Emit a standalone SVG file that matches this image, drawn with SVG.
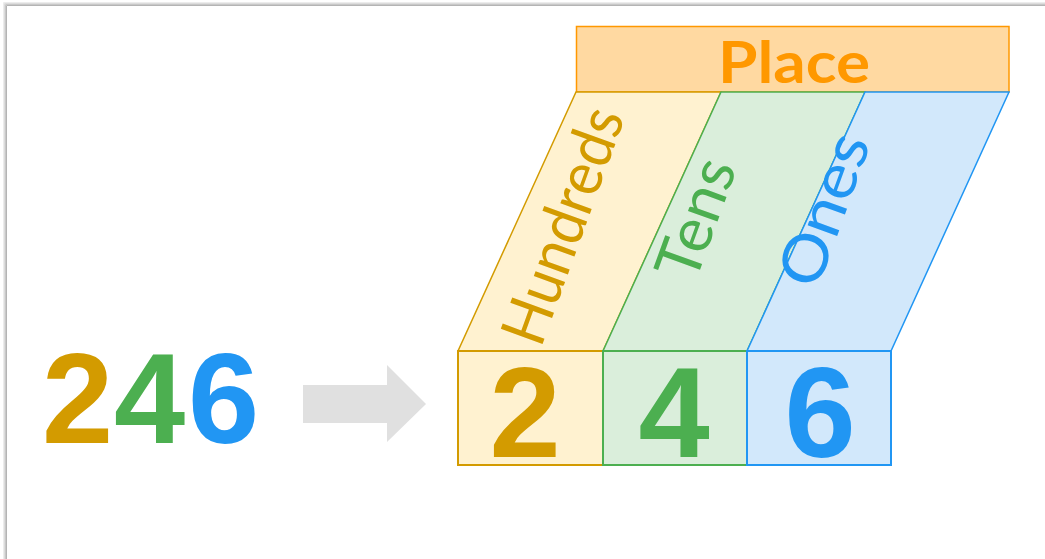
<svg xmlns="http://www.w3.org/2000/svg" width="1045" height="559" viewBox="0 0 1045 559">
<defs>
<style>
.big{font-family:"Liberation Sans",Arial,sans-serif;font-weight:bold;font-size:128px}
.mid{text-anchor:middle}
.lbl{font-family:Lato,"Noto Sans","Liberation Sans",sans-serif;font-weight:400;font-size:62px;text-anchor:middle}
.gold{fill:#D39B00}.green{fill:#4CAF50}.blue{fill:#2196F3}
</style>
</defs>
<rect x="0" y="0" width="1045" height="559" fill="#ffffff"/>
<g id="frame" fill="none">
<path d="M3.5 559 V2.5 H1045" stroke="#ececec" stroke-width="1"/>
<path d="M4.5 559 V3.5 H1045" stroke="#dcdcdc" stroke-width="1"/>
<path d="M5.5 559 V4.5 H1045" stroke="#c8c8c8" stroke-width="1"/>
<path d="M6.5 559 V5.5 H1045" stroke="#b4b4b4" stroke-width="1"/>
</g>
<g id="number246">
<text class="big" x="42" y="443"><tspan class="gold">2</tspan><tspan class="green" x="114">4</tspan><tspan class="blue" x="188">6</tspan></text>
</g>
<g id="connectors">
<polygon points="303,385 387,385 387,365 426,404 387,442 387,423 303,423" fill="#E0E0E0"/>
</g>
<g id="place">
<rect x="576.5" y="26.5" width="432.5" height="65.5" fill="#FFD9A1" stroke="#FF9800" stroke-width="1.5"/>
<text x="794" y="83" font-family="Lato,'Noto Sans','Liberation Sans',sans-serif" font-weight="bold" font-size="57" fill="#FF9800" text-anchor="middle" textLength="152" lengthAdjust="spacingAndGlyphs">Place</text>
</g>
<g id="hundreds">
<polygon points="576,92 721,92 603,351 458,351" fill="#FFF2D0" stroke="#D39B00" stroke-width="1.5"/>
<text class="lbl gold" transform="translate(583,233) rotate(-70)" textLength="247" lengthAdjust="spacingAndGlyphs">Hundreds</text>
<rect x="458" y="351" width="145" height="114" fill="#FFF2D0" stroke="#D39B00" stroke-width="2"/>
<text class="big mid gold" x="525" y="457">2</text>
</g>
<g id="tens">
<polygon points="721,92 865,92 747,351 603,351" fill="#DAEEDB" stroke="#4CAF50" stroke-width="1.5"/>
<text class="lbl green" transform="translate(716,226) rotate(-70)" textLength="124" lengthAdjust="spacingAndGlyphs">Tens</text>
<rect x="603" y="351" width="144" height="114" fill="#DAEEDB" stroke="#4CAF50" stroke-width="2"/>
<text class="big mid green" x="674" y="457">4</text>
</g>
<g id="ones">
<polygon points="865,92 1009,92 891,351 747,351" fill="#D2E8FB" stroke="#2196F3" stroke-width="1.5"/>
<text class="lbl blue" transform="translate(844,217) rotate(-70)" textLength="158" lengthAdjust="spacingAndGlyphs">Ones</text>
<rect x="747" y="351" width="144" height="114" fill="#D2E8FB" stroke="#2196F3" stroke-width="2"/>
<text class="big mid blue" x="820" y="457">6</text>
</g>
</svg>
